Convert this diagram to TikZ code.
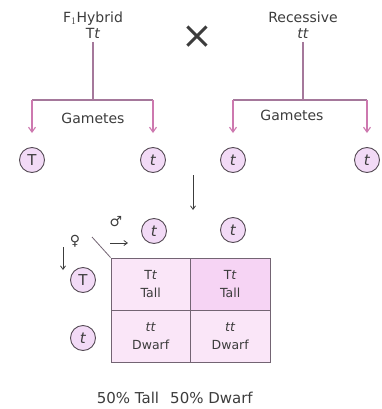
\documentclass[tikz,border=0pt]{standalone}
\usepackage{fontspec}
\setmainfont{DejaVu Sans}
\usepackage{xcolor}
\usetikzlibrary{arrows.meta, positioning, calc}
\definecolor{txtgray}{RGB}{60,60,60}
\definecolor{linepink}{RGB}{165,120,155}
\definecolor{arrowpink}{RGB}{205,120,175}
\definecolor{circline}{RGB}{85,75,85}
\definecolor{circfill}{RGB}{242,218,246}
\definecolor{gridline}{RGB}{115,100,115}
\definecolor{cellfill}{RGB}{250,230,248}
\definecolor{cellfilldark}{RGB}{246,212,244}

\begin{document}
\begin{tikzpicture}[x=1pt, y=-1pt,
      every node/.style={text=txtgray, font=\fontsize{14}{16}\selectfont, align=center},
      gamete/.style={circle, draw=circline, fill=circfill, line width=0.9pt, minimum size=25pt, inner sep=0pt, font=\fontsize{15}{15}\selectfont},
      branch/.style={draw=linepink, line width=1.1pt},
      down/.style={draw=arrowpink, line width=1.1pt, -{Straight Barb[length=5pt, width=7pt]}},
      thin arrow/.style={draw=txtgray, line width=0.8pt, -{Straight Barb[length=3.5pt, width=5pt]}},
      cell/.style={draw=gridline, fill=cellfill, line width=1pt, minimum width=79.5pt, minimum height=52pt, inner sep=0pt, font=\fontsize{12.5}{18}\selectfont}
    ]
      \useasboundingbox (0,0) rectangle (382,409);

      \node (hyb) at (93,25) {F$_1$Hybrid\\T\textit{t}};
      \node (cross) at (197,37) {\fontsize{38}{38}\selectfont ×};
      \node (rec) at (303,25) {Recessive\\\textit{tt}};

      \coordinate (hybjoin) at (93,100);
      \coordinate (hl) at (32,100);
      \coordinate (hr) at (153,100);
      \coordinate (recjoin) at (303,100);
      \coordinate (rl) at (233,100);
      \coordinate (rr) at (367,100);

      \node at (93,118) {Gametes};
      \node at (292,115) {Gametes};

      \node[gamete] (g1) at (32,160) {T};
      \node[gamete] (g2) at (153,160) {\textit{t}};
      \node[gamete] (g3) at (233,160) {\textit{t}};
      \node[gamete] (g4) at (367,160) {\textit{t}};

      \draw[branch] (hyb) -- (hybjoin);
      \draw[branch] (hl) -- (hr);
      \draw[branch] (rec) -- (recjoin);
      \draw[branch] (rl) -- (rr);
      \draw[down, shorten >=14pt] (hl) -- (g1);
      \draw[down, shorten >=14pt] (hr) -- (g2);
      \draw[down, shorten >=14pt] (rl) -- (g3);
      \draw[down, shorten >=14pt] (rr) -- (g4);

      \coordinate (mida) at (193,175);
      \coordinate (midb) at (193,210);
      \draw[thin arrow] (mida) -- (midb);

      % punnett square
      \node[cell] (c11) at (150.75,284) {T\textit{t}\\Tall};
      \node[cell, fill=cellfilldark] (c12) at (230.25,284) {T\textit{t}\\Tall};
      \node[cell] (c21) at (150.75,336) {\textit{tt}\\Dwarf};
      \node[cell] (c22) at (230.25,336) {\textit{tt}\\Dwarf};

      \node[gamete] (m1) at (154,231) {\textit{t}};
      \node[gamete] (m2) at (233,230) {\textit{t}};
      \node[gamete] (f1) at (83,280) {T};
      \node[gamete] (f2) at (83,338) {\textit{t}};

      \node (male) at (116,222) {\fontsize{14}{14}\selectfont ♂};
      \node (female) at (75,241) {\fontsize{14}{14}\selectfont ♀};
      \coordinate (ma) at (110,243);
      \coordinate (mb) at (128,243);
      \coordinate (fa) at (63,247);
      \coordinate (fb) at (63,270);
      \coordinate (diag) at (92,237);
      \draw[thin arrow] (ma) -- (mb);
      \draw[thin arrow] (fa) -- (fb);
      \draw[draw=gridline, line width=0.8pt] (diag) -- (c11.north west);

      \node[font=\fontsize{15}{17}\selectfont] (tall) at (128,398) {50\% Tall};
      \node[font=\fontsize{15}{17}\selectfont, right=4pt of tall] (dwarf) {50\% Dwarf};
    \end{tikzpicture}
\end{document}
